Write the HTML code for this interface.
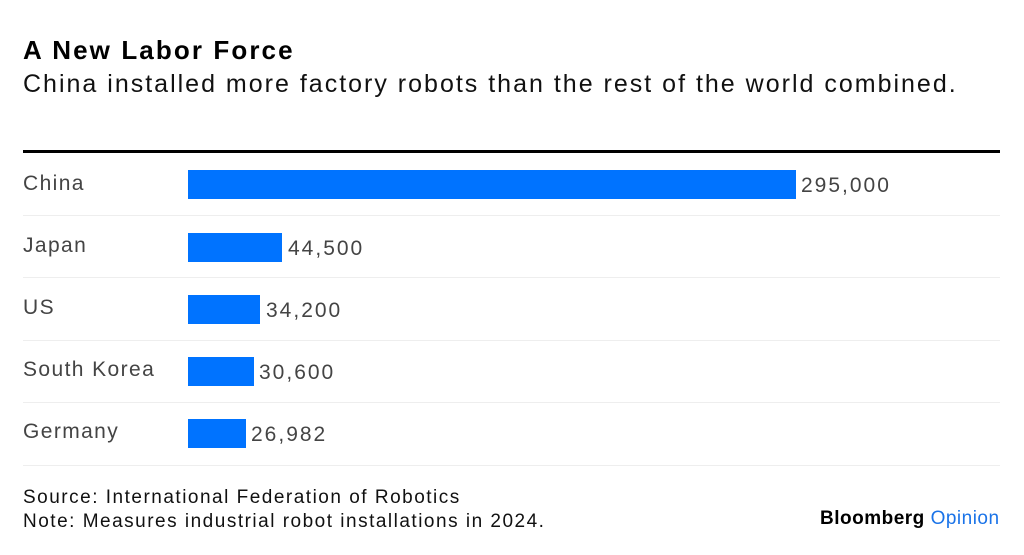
<!DOCTYPE html>
<html><head><style>
body{margin:0;width:1024px;height:555px;background:#fff;font-family:"Liberation Sans",sans-serif;position:relative;overflow:hidden}
div{position:absolute;white-space:nowrap}
.t{left:23px;top:35px;font-size:26px;font-weight:bold;color:#000;letter-spacing:2.1px}
.s{left:23px;top:70px;font-size:25px;color:#111;letter-spacing:2px}
.rule{left:23px;top:150px;width:977px;height:3px;background:#000}
.sep{left:23px;width:977px;height:1px;background:#eee}
.lab{left:23px;font-size:21px;color:#444;letter-spacing:1.4px}
.bar{left:188px;height:29px;background:#0073ff}
.val{font-size:21px;color:#444;letter-spacing:2px}
.f{left:23px;font-size:19px;color:#111;letter-spacing:1.5px}
</style></head><body>
<div class="t">A New Labor Force</div>
<div class="s">China installed more factory robots than the rest of the world combined.</div>
<div class="rule"></div>
<div class="lab" style="top:172px">China</div>
<div class="bar" style="top:170px;width:608px"></div>
<div class="val" style="top:174px;left:801px">295,000</div>
<div class="sep" style="top:215px"></div>
<div class="lab" style="top:234px">Japan</div>
<div class="bar" style="top:233px;width:94px"></div>
<div class="val" style="top:237px;left:288px">44,500</div>
<div class="sep" style="top:277px"></div>
<div class="lab" style="top:296px">US</div>
<div class="bar" style="top:295px;width:72px"></div>
<div class="val" style="top:299px;left:266px">34,200</div>
<div class="sep" style="top:340px"></div>
<div class="lab" style="top:358px">South Korea</div>
<div class="bar" style="top:357px;width:66px"></div>
<div class="val" style="top:361px;left:259px">30,600</div>
<div class="sep" style="top:402px"></div>
<div class="lab" style="top:420px">Germany</div>
<div class="bar" style="top:419px;width:58px"></div>
<div class="val" style="top:423px;left:251px">26,982</div>
<div class="sep" style="top:465px"></div>
<div class="f" style="top:487px">Source: International Federation of Robotics</div>
<div class="f" style="top:511px">Note: Measures industrial robot installations in 2024.</div>
<div style="left:820px;top:508px;font-size:19px;font-weight:bold;color:#000;letter-spacing:0.5px">Bloomberg <span style="color:#1a73e8;font-weight:normal">Opinion</span></div>
</body></html>
